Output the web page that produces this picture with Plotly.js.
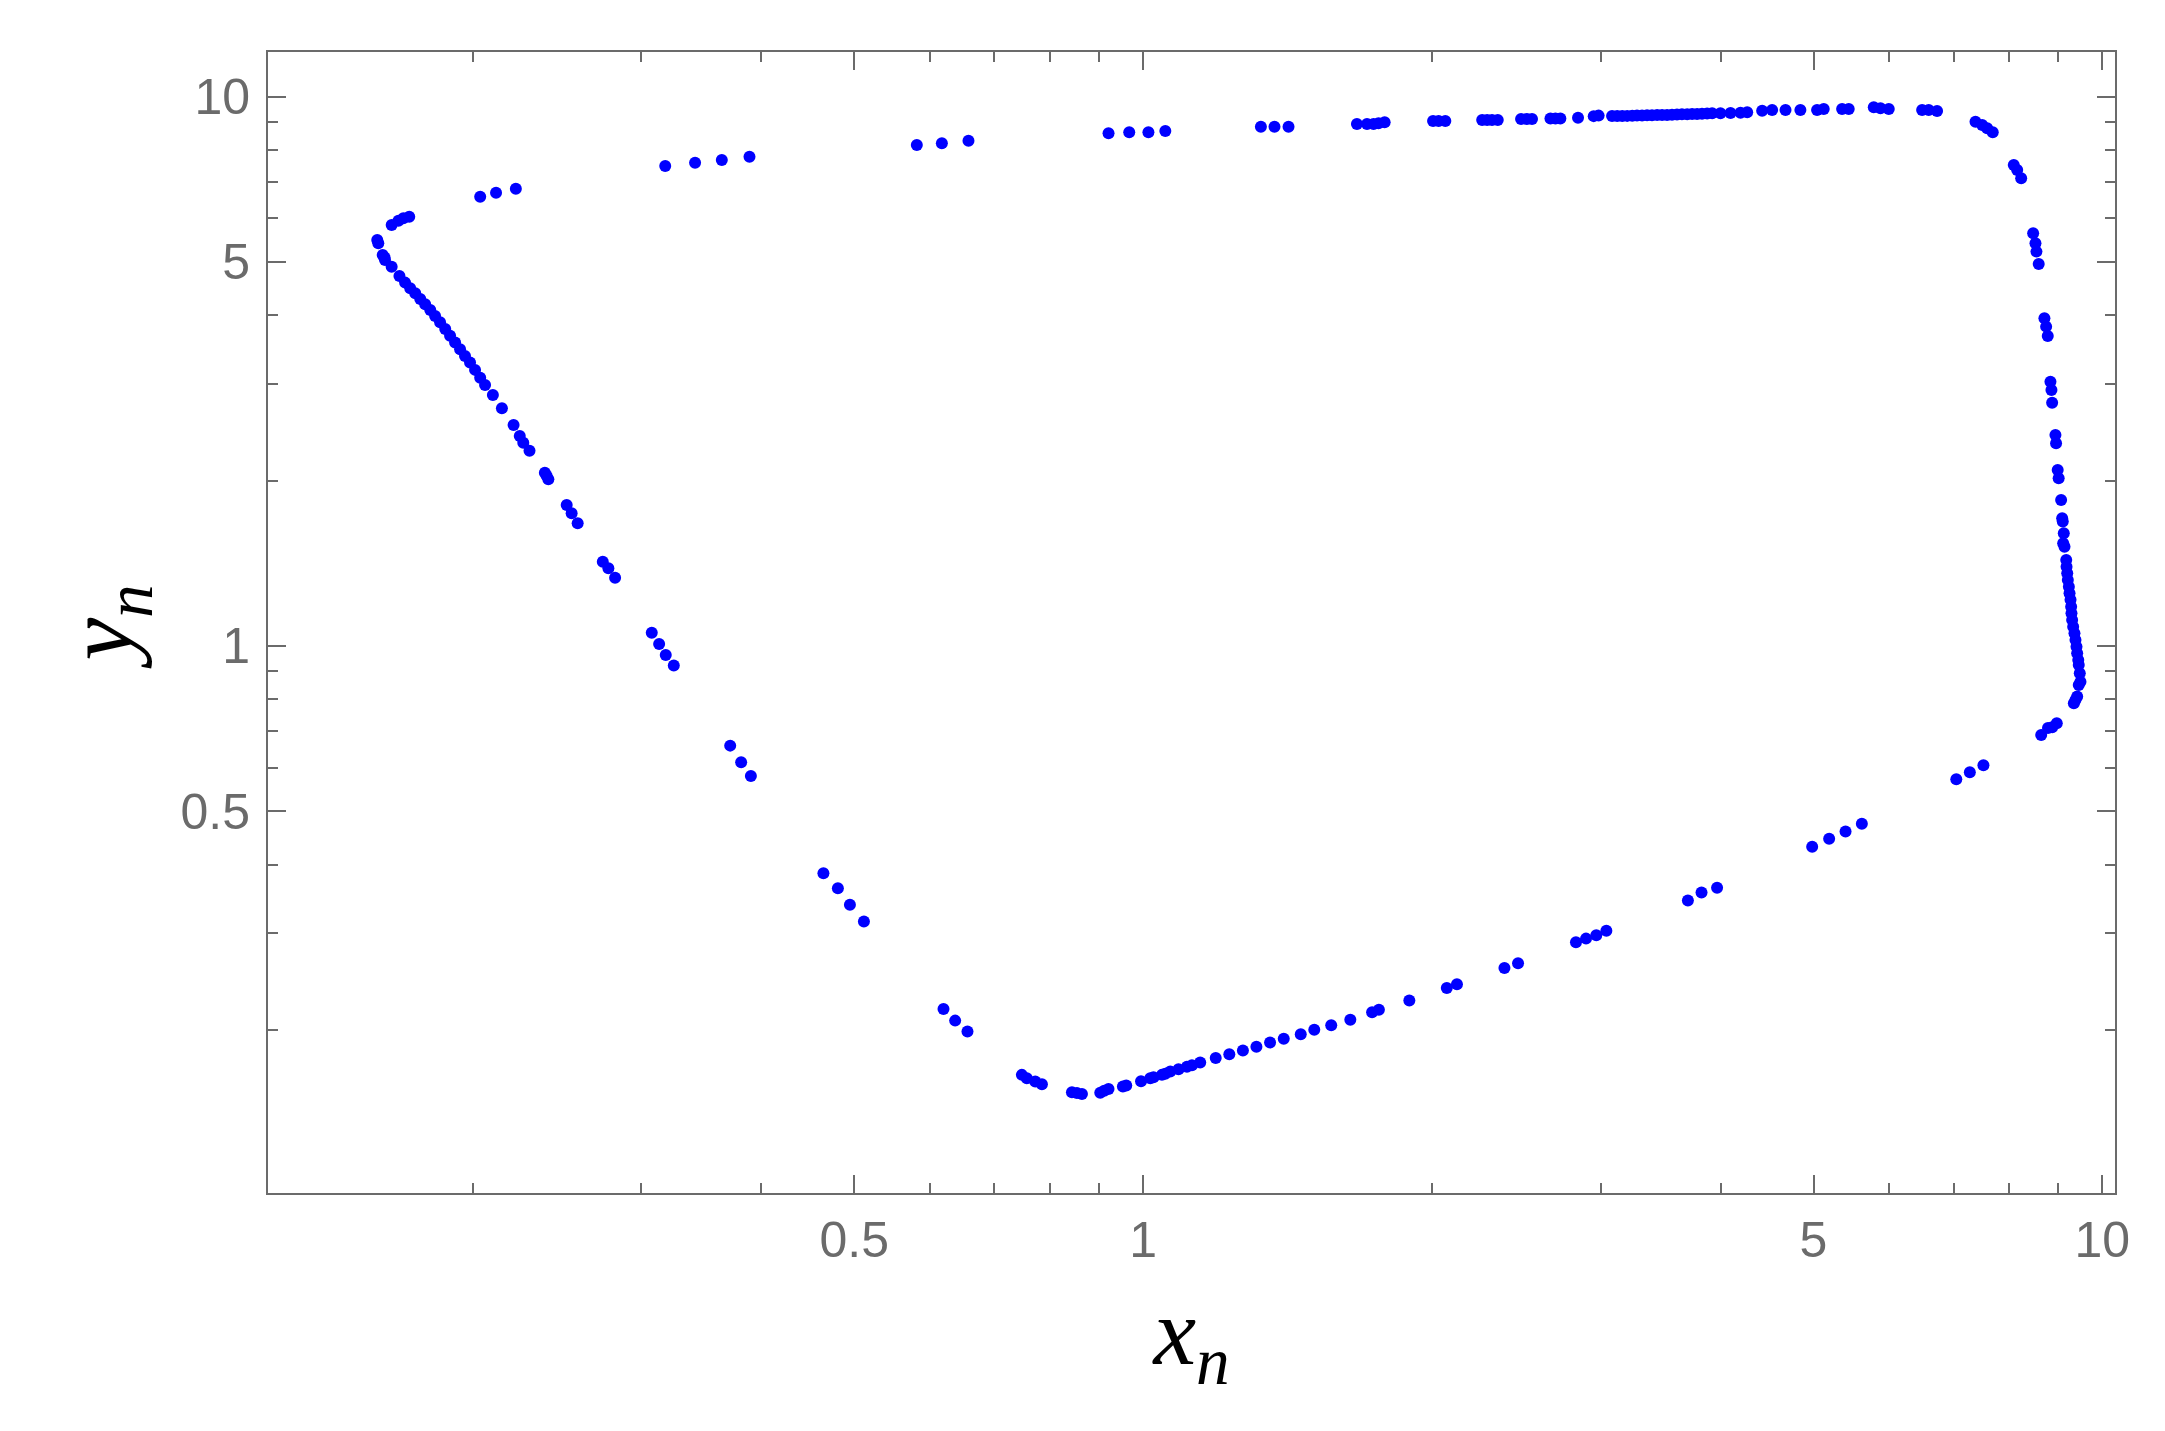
<!DOCTYPE html>
<html>
<head>
<meta charset="utf-8">
<script src="https://cdn.plot.ly/plotly-3.0.1.min.js"></script>
<style>
  html, body { margin: 0; padding: 0; background: #fff; }
</style>
</head>
<body>
<div id="orbitPlot" style="width:2165px;height:1431px;"></div>
<script>
// orbit of the map, split by branch
const leftX = [0.1591, 0.1595, 0.1612, 0.1619, 0.1621, 0.1647, 0.1678, 0.1701, 0.1722, 0.1743, 0.1764, 0.1785,
  0.1807, 0.1828, 0.1850, 0.1873, 0.1895, 0.1918, 0.1941, 0.1964, 0.1988, 0.2012, 0.2037, 0.2061, 0.2100,
  0.2146, 0.2207, 0.2240, 0.2259, 0.2293, 0.2379, 0.2389, 0.2399, 0.2507, 0.2537, 0.2574, 0.2734, 0.2771,
  0.2816, 0.3075, 0.3130, 0.3180, 0.3242, 0.3712, 0.3811, 0.3901, 0.4643, 0.4807, 0.4948, 0.5117, 0.6194,
  0.6370, 0.6561, 0.7476, 0.7566, 0.7720, 0.7845];
const leftY = [5.482, 5.406, 5.147, 5.095, 5.040, 4.900, 4.713, 4.584, 4.477, 4.385, 4.281, 4.187,
  4.088, 3.986, 3.883, 3.775, 3.670, 3.565, 3.467, 3.372, 3.279, 3.180, 3.078, 2.985, 2.863,
  2.708, 2.525, 2.410, 2.344, 2.267, 2.067, 2.040, 2.011, 1.806, 1.744, 1.672, 1.423, 1.385,
  1.331, 1.057, 1.008, 0.963, 0.921, 0.6585, 0.6144, 0.5800, 0.3858, 0.3622, 0.3379, 0.3150, 0.2183,
  0.2080, 0.1987, 0.1657, 0.1634, 0.1611, 0.1593];

const bottomX = [0.8431, 0.8533, 0.8636, 0.9024, 0.9111, 0.9205, 0.9528, 0.9605, 0.9952, 1.0174, 1.0255,
  1.0464, 1.0547, 1.0676, 1.0889, 1.1112, 1.1246, 1.1471, 1.1906, 1.2301, 1.2709, 1.3128, 1.3565, 1.4018,
  1.4602, 1.5084, 1.5710, 1.6447, 1.7330, 1.7615, 1.8950, 2.0733, 2.1245, 2.3810, 2.4600, 2.8269, 2.8961,
  2.9683, 3.0409, 3.6983, 3.8213, 3.9667, 4.9838, 5.1911, 5.3996, 5.6150, 7.0440, 7.2765, 7.5182, 8.6364,
  8.7780, 8.8670, 8.9650, 9.3400, 9.3770, 9.4150, 9.4510, 9.4900];
const bottomY = [0.1541, 0.1535, 0.1530, 0.1538, 0.1551, 0.1561, 0.1578, 0.1585, 0.1613, 0.1634, 0.1641,
  0.1657, 0.1664, 0.1680, 0.1697, 0.1715, 0.1725, 0.1745, 0.1779, 0.1807, 0.1835, 0.1864, 0.1897, 0.1928,
  0.1965, 0.2001, 0.2040, 0.2088, 0.2154, 0.2176, 0.2262, 0.2384, 0.2422, 0.2594, 0.2646, 0.2888, 0.2933,
  0.2974, 0.3031, 0.3442, 0.3558, 0.3630, 0.4310, 0.4457, 0.4597, 0.4745, 0.5720, 0.5889, 0.6065, 0.6887,
  0.7093, 0.7112, 0.7233, 0.7864, 0.7976, 0.8087, 0.8490, 0.8610];

const rightX = [9.474, 9.451, 9.440, 9.415, 9.400, 9.377, 9.354, 9.325, 9.302, 9.287, 9.280, 9.266, 9.244,
  9.229, 9.206, 9.193, 9.178, 9.171, 9.133, 9.104, 9.117, 9.095, 9.082, 9.059, 9.006, 8.985, 8.950, 8.936,
  8.866, 8.851, 8.830, 8.773, 8.739, 8.703, 8.585, 8.538, 8.518, 8.471, 8.231, 8.153, 8.086, 7.688, 7.586,
  7.495, 7.376];
const rightY = [0.892, 0.9235, 0.943, 0.970, 0.997, 1.025, 1.055, 1.084, 1.115, 1.147, 1.179, 1.213, 1.247,
  1.282, 1.318, 1.356, 1.394, 1.434, 1.516, 1.538, 1.604, 1.684, 1.708, 1.844, 2.020, 2.091, 2.338, 2.421,
  2.772, 2.924, 3.027, 3.665, 3.812, 3.949, 4.958, 5.220, 5.405, 5.636, 7.099, 7.348, 7.504, 8.608, 8.753,
  8.874, 8.998];

const topX = [6.726, 6.592, 6.489, 5.990, 5.872, 5.778, 5.441, 5.355, 5.124, 5.043, 4.845, 4.675, 4.527,
  4.420, 4.264, 4.196, 4.097, 3.999, 3.920, 3.873, 3.826, 3.781, 3.736, 3.692, 3.646, 3.603, 3.560, 3.518,
  3.476, 3.435, 3.393, 3.353, 3.313, 3.273, 3.236, 3.197, 3.159, 3.121, 3.083, 2.985, 2.950, 2.841, 2.723,
  2.691, 2.659, 2.544, 2.513, 2.478, 2.343, 2.311, 2.284, 2.257, 2.066, 2.033, 2.006, 1.786, 1.760, 1.739,
  1.712, 1.671, 1.418, 1.371, 1.327, 1.055, 1.013, 0.9674, 0.9205, 0.6577, 0.6170, 0.5810, 0.3888, 0.3638,
  0.3412, 0.3176, 0.2219, 0.2116, 0.2037, 0.1718, 0.1694, 0.1674, 0.1647];
const topY = [9.410, 9.450, 9.450, 9.489, 9.517, 9.557, 9.489, 9.489, 9.489, 9.450, 9.450, 9.450, 9.450,
  9.423, 9.361, 9.344, 9.333, 9.320, 9.320, 9.310, 9.300, 9.293, 9.293, 9.285, 9.280, 9.270, 9.265, 9.254,
  9.254, 9.250, 9.245, 9.240, 9.235, 9.230, 9.225, 9.220, 9.216, 9.216, 9.216, 9.230, 9.210, 9.150, 9.120,
  9.120, 9.120, 9.100, 9.100, 9.100, 9.062, 9.062, 9.062, 9.062, 9.024, 9.024, 9.024, 8.976, 8.937, 8.913,
  8.913, 8.913, 8.811, 8.811, 8.811, 8.652, 8.607, 8.607, 8.570, 8.309, 8.218, 8.160, 7.770, 7.663,
  7.577, 7.472, 6.795, 6.682, 6.571, 6.043, 6.002, 5.943, 5.837];

const majorVals = [0.5, 1, 5, 10];
const majorText = ['0.5', '1', '5', '10'];
const minorVals = [0.2, 0.3, 0.4, 0.6, 0.7, 0.8, 0.9, 2, 3, 4, 6, 7, 8, 9];

var xn = leftX.concat(bottomX, rightX, topX);
var yn = leftY.concat(bottomY, rightY, topY);

var trace = {
    type: 'scatter',
    mode: 'markers',
    x: xn,
    y: yn,
    marker: {color: '#0000ff', size: 12},
    hoverinfo: 'x+y'
};

var frameColor = '#6b6b6b';
var tickFont = {family: 'Liberation Sans, Arial, sans-serif', size: 50, color: '#6b6b6b'};
var titleFont = {family: 'Liberation Serif, Times New Roman, serif', size: 96, color: '#000'};

function logAxis(range, title, labelGap, standoff) {
    return {
        type: 'log',
        range: range,
        tickmode: 'array',
        tickvals: majorVals,
        ticktext: majorText,
        ticks: 'inside',
        ticklen: 18,
        tickwidth: 2,
        tickcolor: frameColor,
        minor: {
            tickmode: 'array',
            tickvals: minorVals,
            ticks: 'inside',
            ticklen: 10,
            tickwidth: 2,
            tickcolor: frameColor,
            showgrid: false
        },
        showline: true,
        linecolor: frameColor,
        linewidth: 2,
        mirror: 'ticks',
        showgrid: false,
        zeroline: false,
        tickfont: tickFont,
        ticklabelstandoff: labelGap,
        title: {text: title, font: titleFont, standoff: standoff}
    };
}

var layout = {
    width: 2165,
    height: 1431,
    margin: {l: 268, r: 50, t: 52, b: 238},
    paper_bgcolor: '#fff',
    plot_bgcolor: '#fff',
    showlegend: false,
    xaxis: logAxis([Math.log10(0.1224), Math.log10(10.31)], '<i>x</i><sub><i>n</i></sub>', 2, 30),
    yaxis: logAxis([Math.log10(0.1010), Math.log10(12.05)], '<i>y</i><sub><i>n</i></sub>', 6, 16)
};

Plotly.newPlot('orbitPlot', [trace], layout, {displayModeBar: false, staticPlot: true});
</script>
</body>
</html>
